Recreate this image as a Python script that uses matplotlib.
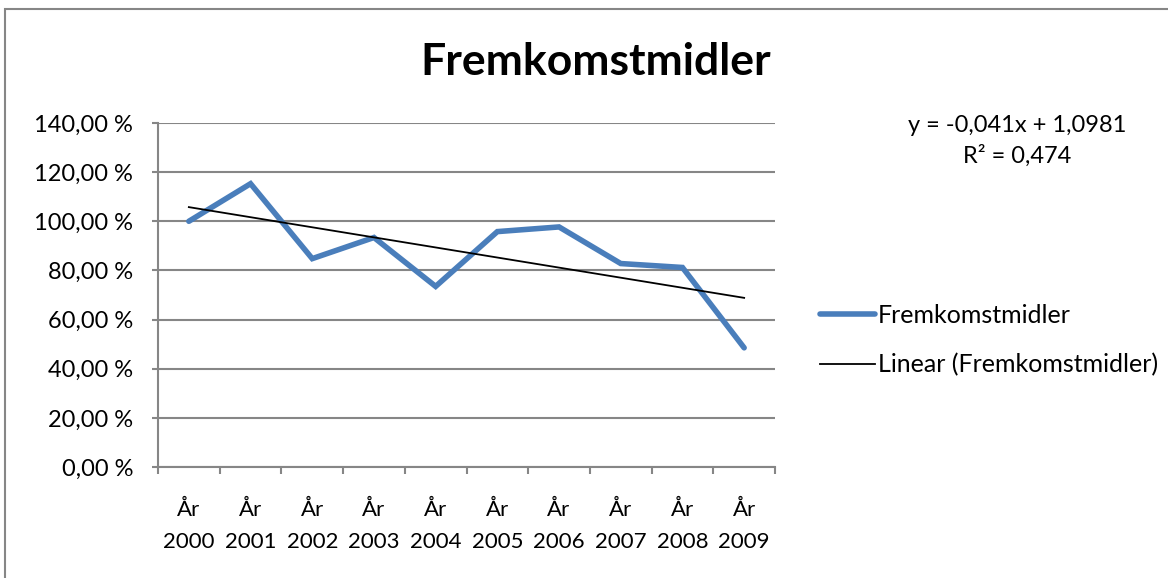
import matplotlib.pyplot as plt
import numpy as np
from matplotlib.patches import Rectangle

years = ["År\n2000", "År\n2001", "År\n2002", "År\n2003", "År\n2004",
         "År\n2005", "År\n2006", "År\n2007", "År\n2008", "År\n2009"]
values = [100.0, 115.3, 84.8, 93.4, 73.5, 95.8, 97.7, 82.8, 81.2, 48.5]
yticks = [0, 20, 40, 60, 80, 100, 120, 140]
series_name = "Fremkomstmidler"
equation = "y = -0,041x + 1,0981\nR² = 0,474"

plt.rcParams['font.family'] = ['Lato', 'DejaVu Sans']
grid_col = "#868686"
fs = 16

fig = plt.figure(figsize=(11.68, 5.78), dpi=100)
fig.patches.append(Rectangle((5 / 1168, -0.05), 1.1, (578 - 9) / 578 + 0.05,
                             transform=fig.transFigure, fill=False,
                             edgecolor=grid_col, linewidth=1.5))

ax = fig.add_axes([158 / 1168, (578 - 467) / 578, 617 / 1168, (467 - 123) / 578])
x = np.arange(1, len(values) + 1)
ax.plot(x, values, color="#4A7EBB", linewidth=4, solid_capstyle="round",
        solid_joinstyle="miter", label=series_name, zorder=3)

slope, icept = np.polyfit(x, values, 1)
ax.plot(x[[0, -1]], slope * x[[0, -1]] + icept, color="black", linewidth=1.3,
        label="Linear (" + series_name + ")", zorder=4)

ax.set_xlim(0.5, len(values) + 0.5)
ax.set_ylim(0, 140)
ax.set_yticks(yticks)
ax.set_yticklabels([f"{v:.2f}".replace(".", ",") + " %" for v in yticks], fontsize=17)
ax.set_xticks(x)
ax.set_xticklabels(years, fontsize=fs, linespacing=1.7)
ax.set_xticks(np.arange(0.5, len(values) + 1), minor=True)
ax.tick_params(axis="x", which="major", length=0, pad=24)
ax.tick_params(axis="x", which="minor", length=5, color=grid_col, width=1.5)
ax.tick_params(axis="y", length=4, color=grid_col, width=1.5, pad=14)
ax.grid(axis="y", color=grid_col, linewidth=1.5)
ax.set_axisbelow(True)
for side in ["top", "right"]:
    ax.spines[side].set_visible(False)
for side in ["left", "bottom"]:
    ax.spines[side].set_color(grid_col)
    ax.spines[side].set_linewidth(1.5)

fig.text(596 / 1168, 1 - 62 / 578, series_name, fontsize=32, fontweight="bold",
         ha="center", va="center")
fig.text(1017 / 1168, 1 - 141 / 578, equation, fontsize=17, ha="center", va="center",
         linespacing=1.5)

ax.legend(loc="center left", bbox_to_anchor=((810 - 158) / 617, 0.369), frameon=False,
          fontsize=18, handlelength=2.2, handletextpad=0.1, labelspacing=1.05,
          borderaxespad=0)

fig.savefig("out.png", dpi=100)
